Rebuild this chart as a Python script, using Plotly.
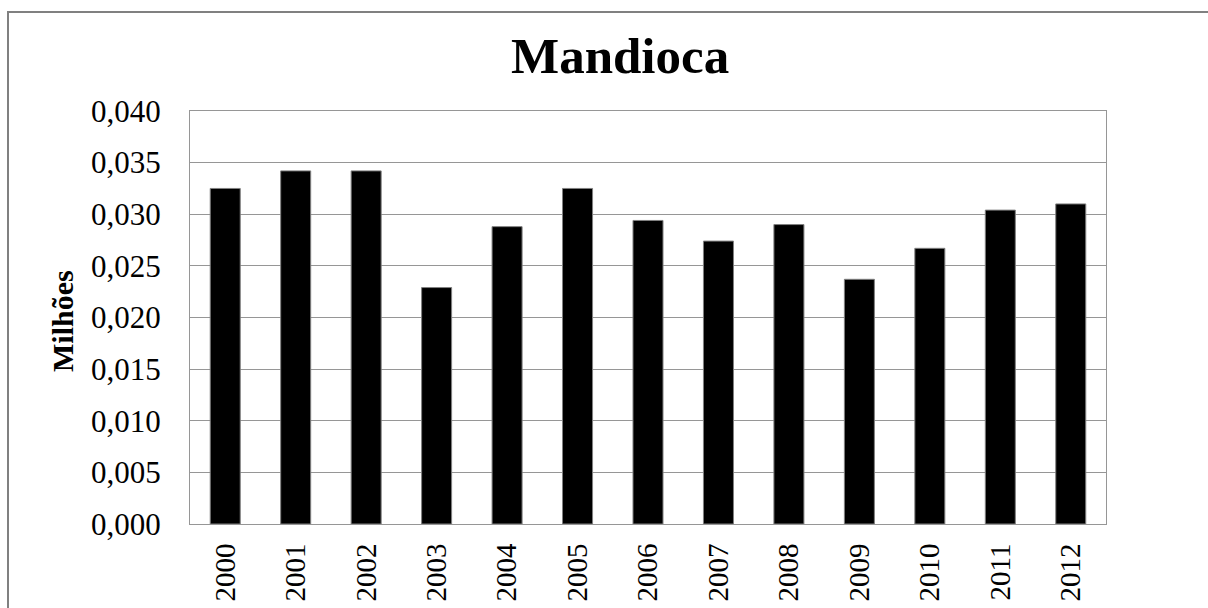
import plotly.graph_objects as go

years = ["2000", "2001", "2002", "2003", "2004", "2005", "2006",
         "2007", "2008", "2009", "2010", "2011", "2012"]
values = [0.0325, 0.0342, 0.0342, 0.0229, 0.0288, 0.0325, 0.0294,
          0.0274, 0.0290, 0.0237, 0.0267, 0.0304, 0.0310]
y_ticks = [0.000, 0.005, 0.010, 0.015, 0.020, 0.025, 0.030, 0.035, 0.040]

FONT = "Liberation Serif"
W, H = 1208, 608
L, R, T, B = 190, 1106, 111, 524
pw, ph = R - L, B - T

def px(x):
    return (x - L) / pw

def py(y):
    return (B - y) / ph

fig = go.Figure()
fig.add_trace(go.Bar(
    x=years, y=values,
    marker=dict(color="black", line=dict(color="#808080", width=1)),
))

fig.update_layout(
    width=W, height=H,
    margin=dict(l=L, r=W - R, t=T, b=H - B, autoexpand=False),
    paper_bgcolor="white", plot_bgcolor="white",
    separators=",.",
    showlegend=False,
    bargap=0.574,
    font=dict(family=FONT, color="black"),
    xaxis=dict(
        type="category",
        tickangle=-90,
        automargin=False,
        tickfont=dict(size=29, family=FONT, color="black"),
        showline=True, linecolor="#969696", linewidth=1, mirror=True,
        ticks="", showgrid=False,
        ticklabelstandoff=7,
    ),
    yaxis=dict(
        range=[0, 0.040],
        tickvals=y_ticks,
        tickformat=".3f",
        automargin=False,
        tickfont=dict(size=31, family=FONT, color="black"),
        showline=True, linecolor="#969696", linewidth=1, mirror=True,
        showgrid=True, gridcolor="#969696", gridwidth=1,
        ticks="", zeroline=False,
        ticklabelstandoff=22,
    ),
    annotations=[
        dict(text="<b>Mandioca</b>", x=px(620), y=py(56), xref="paper", yref="paper",
             xanchor="center", yanchor="middle", showarrow=False,
             font=dict(size=51, family=FONT, color="black")),
        dict(text="<b>Milhões</b>", x=px(62), y=py(321), xref="paper", yref="paper",
             xanchor="center", yanchor="middle", showarrow=False, textangle=-90,
             font=dict(size=30, family=FONT, color="black")),
    ],
    shapes=[
        dict(type="rect", xref="paper", yref="paper",
             x0=px(8), x1=px(1240), y0=py(650), y1=py(12),
             line=dict(color="#808080", width=2), fillcolor="rgba(0,0,0,0)",
             layer="below"),
    ],
)

fig.write_html("out.html")
